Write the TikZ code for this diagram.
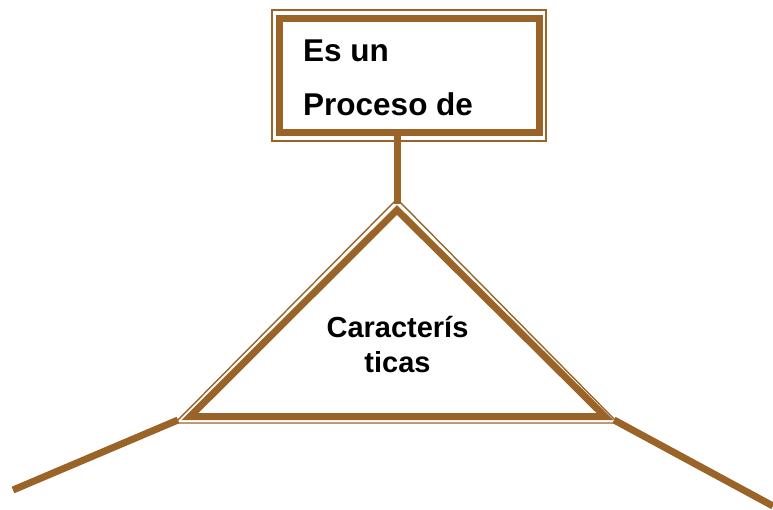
\documentclass[tikz,border=0pt]{standalone}
\usepackage{fontspec}
\setmainfont{Liberation Sans}
\definecolor{brn}{HTML}{9A6428}
\begin{document}
\begin{tikzpicture}[x=1pt,y=-1pt,
  thick line/.style={draw=brn,line width=7pt},
  thin line/.style={draw=brn,line width=1.4pt},
  lbl/.style={font=\bfseries\fontsize{29}{35}\selectfont,inner sep=0pt},
  boxlbl/.style={font=\bfseries\fontsize{31.5}{35}\selectfont,inner sep=0pt}]
\useasboundingbox (0,0) rectangle (773,510);
% box
\draw[thin line] (272,10) rectangle (546,141);
\draw[thick line] (279,18.5) rectangle (539,132.5);
\node[boxlbl,anchor=base west] (t1) at (303,62) {Es un};
\node[boxlbl,anchor=base west] (t2) at (303,116) {Proceso de};
% stem
\coordinate (boxb) at (397,136);
\coordinate (apex) at (397,204);
\draw[thick line] (boxb) -- (apex);
% triangle
\coordinate (bl) at (178,420);
\coordinate (br) at (614,420);
\draw[thin line,line join=miter] (397,199) -- (175,423) -- (618,423) -- cycle;
\draw[thick line,line join=miter] (397,210) -- (190,416.5) -- (605,416.5) -- cycle;
\node[lbl,align=center,anchor=base] (t3) at (397.5,372) {Caracterís\\ticas};
% legs
\coordinate (l1) at (13,490);
\coordinate (r1) at (773,506);
\draw[thick line] (bl) -- (l1);
\draw[thick line] (br) -- (r1);
\end{tikzpicture}
\end{document}
